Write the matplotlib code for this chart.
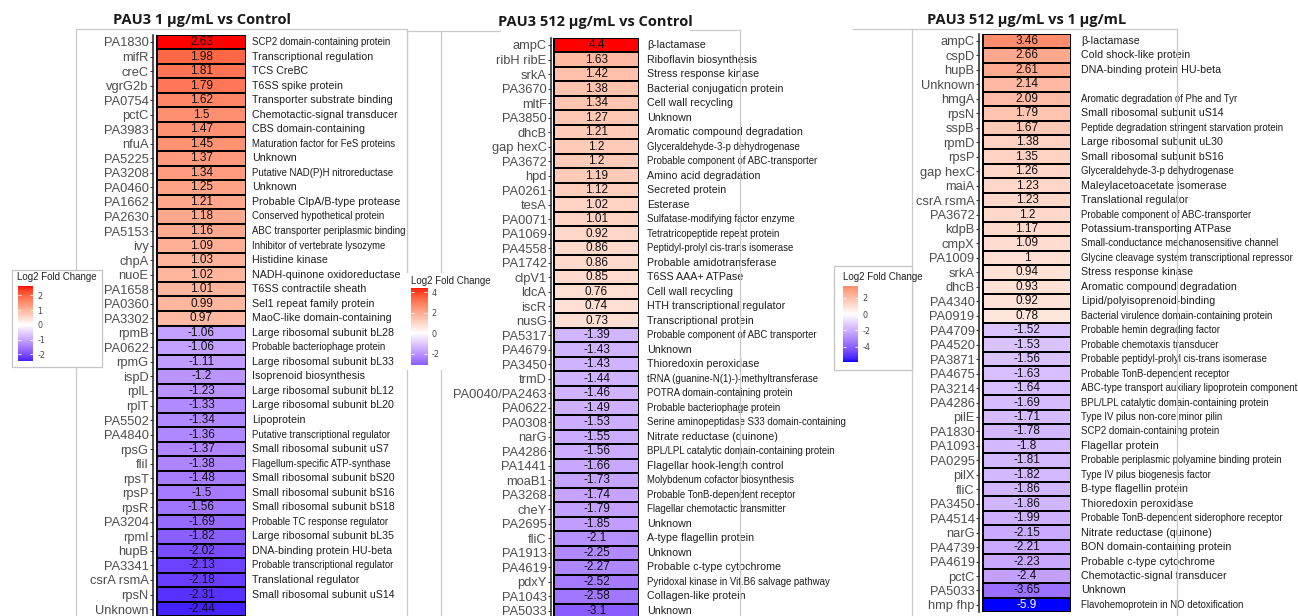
import numpy as np
import matplotlib
matplotlib.use("Agg")
import matplotlib.pyplot as plt
from matplotlib.colors import ListedColormap, Normalize
from matplotlib.lines import Line2D
from matplotlib.patches import Rectangle

# ---------------------------------------------------------------- data
title1 = "PAU3 1 µg/mL vs Control"
genes1 = ["PA1830", "mifR", "creC", "vgrG2b", "PA0754", "pctC", "PA3983", "nfuA",
          "PA5225", "PA3208", "PA0460", "PA1662", "PA2630", "PA5153", "ivy", "chpA",
          "nuoE", "PA1658", "PA0360", "PA3302", "rpmB", "PA0622", "rpmG", "ispD",
          "rplL", "rplT", "PA5502", "PA4840", "rpsG", "fliI", "rpsT", "rpsP", "rpsR",
          "PA3204", "rpmI", "hupB", "PA3341", "csrA rsmA", "rpsN", "Unknown"]
lfc1 = [2.63, 1.98, 1.81, 1.79, 1.62, 1.5, 1.47, 1.45, 1.37, 1.34, 1.25, 1.21, 1.18,
        1.16, 1.09, 1.03, 1.02, 1.01, 0.99, 0.97, -1.06, -1.06, -1.11, -1.2, -1.23,
        -1.33, -1.34, -1.36, -1.37, -1.38, -1.48, -1.5, -1.56, -1.69, -1.82, -2.02,
        -2.13, -2.18, -2.31, -2.44]
desc1 = ["SCP2 domain-containing protein", "Transcriptional regulation", "TCS CreBC",
         "T6SS spike protein", "Transporter substrate binding",
         "Chemotactic-signal transducer", "CBS domain-containing",
         "Maturation factor for FeS proteins", "Unknown",
         "Putative NAD(P)H nitroreductase", "Unknown", "Probable ClpA/B-type protease",
         "Conserved hypothetical protein", "ABC transporter periplasmic binding",
         "Inhibitor of vertebrate lysozyme", "Histidine kinase",
         "NADH-quinone oxidoreductase", "T6SS contractile sheath",
         "Sel1 repeat family protein", "MaoC-like domain-containing",
         "Large ribosomal subunit bL28", "Probable bacteriophage protein",
         "Large ribosomal subunit bL33", "Isoprenoid biosynthesis",
         "Large ribosomal subunit bL12", "Large ribosomal subunit bL20", "Lipoprotein",
         "Putative transcriptional regulator", "Small ribosomal subunit uS7",
         "Flagellum-specific ATP-synthase", "Small ribosomal subunit bS20",
         "Small ribosomal subunit bS16", "Small ribosomal subunit bS18",
         "Probable TC response regulator", "Large ribosomal subunit bL35",
         "DNA-binding protein HU-beta", "Probable transcriptional regulator",
         "Translational regulator", "Small ribosomal subunit uS14", ""]
breaks1 = [-2, -1, 0, 1, 2]

title2 = "PAU3 512 µg/mL vs Control"
genes2 = ["ampC", "ribH ribE", "srkA", "PA3670", "mltF", "PA3850", "dhcB", "gap hexC",
          "PA3672", "hpd", "PA0261", "tesA", "PA0071", "PA1069", "PA4558", "PA1742",
          "clpV1", "ldcA", "iscR", "nusG", "PA5317", "PA4679", "PA3450", "trmD",
          "PA0040/PA2463", "PA0622", "PA0308", "narG", "PA4286", "PA1441", "moaB1",
          "PA3268", "cheY", "PA2695", "fliC", "PA1913", "PA4619", "pdxY", "PA1043",
          "PA5033"]
lfc2 = [4.4, 1.63, 1.42, 1.38, 1.34, 1.27, 1.21, 1.2, 1.2, 1.19, 1.12, 1.02, 1.01,
        0.92, 0.86, 0.86, 0.85, 0.76, 0.74, 0.73, -1.39, -1.43, -1.43, -1.44, -1.46,
        -1.49, -1.53, -1.55, -1.56, -1.66, -1.73, -1.74, -1.79, -1.85, -2.1, -2.25,
        -2.27, -2.52, -2.58, -3.1]
desc2 = ["β-lactamase", "Riboflavin biosynthesis", "Stress response kinase",
         "Bacterial conjugation protein", "Cell wall recycling", "Unknown",
         "Aromatic compound degradation", "Glyceraldehyde-3-p dehydrogenase",
         "Probable component of ABC-transporter", "Amino acid degradation",
         "Secreted protein", "Esterase", "Sulfatase-modifying factor enzyme",
         "Tetratricopeptide repeat protein", "Peptidyl-prolyl cis-trans isomerase",
         "Probable amidotransferase", "T6SS AAA+ ATPase", "Cell wall recycling",
         "HTH transcriptional regulator", "Transcriptional protein",
         "Probable component of ABC transporter", "Unknown", "Thioredoxin peroxidase",
         "tRNA (guanine-N(1)-)-methyltransferase", "POTRA domain-containing protein",
         "Probable bacteriophage protein",
         "Serine aminopeptidase S33 domain-containing", "Nitrate reductase (quinone)",
         "BPL/LPL catalytic domain-containing protein", "Flagellar hook-length control",
         "Molybdenum cofactor biosynthesis", "Probable TonB-dependent receptor",
         "Flagellar chemotactic transmitter", "Unknown", "A-type flagellin protein",
         "Unknown", "Probable c-type cytochrome",
         "Pyridoxal kinase in Vit.B6 salvage pathway", "Collagen-like protein",
         "Unknown"]
breaks2 = [-2, 0, 2, 4]

title3 = "PAU3 512 µg/mL vs 1 µg/mL"
genes3 = ["ampC", "cspD", "hupB", "Unknown", "hmgA", "rpsN", "sspB", "rpmD", "rpsP",
          "gap hexC", "maiA", "csrA rsmA", "PA3672", "kdpB", "cmpX", "PA1009", "srkA",
          "dhcB", "PA4340", "PA0919", "PA4709", "PA4520", "PA3871", "PA4675", "PA3214",
          "PA4286", "pilE", "PA1830", "PA1093", "PA0295", "pilX", "fliC", "PA3450",
          "PA4514", "narG", "PA4739", "PA4619", "pctC", "PA5033", "hmp fhp"]
lfc3 = [3.46, 2.66, 2.61, 2.14, 2.09, 1.79, 1.67, 1.38, 1.35, 1.26, 1.23, 1.23, 1.2,
        1.17, 1.09, 1.0, 0.94, 0.93, 0.92, 0.78, -1.52, -1.53, -1.56, -1.63, -1.64,
        -1.69, -1.71, -1.78, -1.8, -1.81, -1.82, -1.86, -1.86, -1.99, -2.15, -2.21,
        -2.23, -2.4, -3.65, -5.9]
desc3 = ["β-lactamase", "Cold shock-like protein", "DNA-binding protein HU-beta", "",
         "Aromatic degradation of Phe and Tyr", "Small ribosomal subunit uS14",
         "Peptide degradation stringent starvation protein",
         "Large ribosomal subunit uL30", "Small ribosomal subunit bS16",
         "Glyceraldehyde-3-p dehydrogenase", "Maleylacetoacetate isomerase",
         "Translational regulator", "Probable component of ABC-transporter",
         "Potassium-transporting ATPase", "Small-conductance mechanosensitive channel",
         "Glycine cleavage system transcriptional repressor", "Stress response kinase",
         "Aromatic compound degradation", "Lipid/polyisoprenoid-binding",
         "Bacterial virulence domain-containing protein",
         "Probable hemin degrading factor", "Probable chemotaxis transducer",
         "Probable peptidyl-prolyl cis-trans isomerase",
         "Probable TonB-dependent receptor",
         "ABC-type transport auxiliary lipoprotein component",
         "BPL/LPL catalytic domain-containing protein",
         "Type IV pilus non-core minor pilin", "SCP2 domain-containing protein",
         "Flagellar protein", "Probable periplasmic polyamine binding protein",
         "Type IV pilus biogenesis factor", "B-type flagellin protein",
         "Thioredoxin peroxidase", "Probable TonB-dependent siderophore receptor",
         "Nitrate reductase (quinone)", "BON domain-containing protein",
         "Probable c-type cytochrome", "Chemotactic-signal transducer", "Unknown",
         "Flavohemoprotein in NO detoxification"]
breaks3 = [-4, -2, 0, 2]

# ---------------------------------------------------------------- colour scale
# blue - white - red gradient interpolated in CIELAB space
_M = np.array([[0.4124564, 0.3575761, 0.1804375],
               [0.2126729, 0.7151522, 0.0721750],
               [0.0193339, 0.1191920, 0.9503041]])
_WP = np.array([0.95047, 1.0, 1.08883])


def rgb_to_lab(rgb):
    rgb = np.asarray(rgb, float)
    lin = np.where(rgb <= 0.04045, rgb / 12.92, ((rgb + 0.055) / 1.055) ** 2.4)
    xyz = _M @ lin / _WP
    f = np.where(xyz > (6 / 29) ** 3, np.cbrt(xyz), xyz / (3 * (6 / 29) ** 2) + 4 / 29)
    return np.array([116 * f[1] - 16, 500 * (f[0] - f[1]), 200 * (f[1] - f[2])])


def lab_to_rgb(lab):
    L, a, b = lab
    fy = (L + 16) / 116
    fx = fy + a / 500
    fz = fy - b / 200
    f = np.array([fx, fy, fz])
    xyz = np.where(f > 6 / 29, f ** 3, 3 * (6 / 29) ** 2 * (f - 4 / 29)) * _WP
    lin = np.linalg.solve(_M, xyz)
    lin = np.clip(lin, 0, 1)
    rgb = np.where(lin <= 0.0031308, 12.92 * lin, 1.055 * lin ** (1 / 2.4) - 0.055)
    return np.clip(rgb, 0, 1)


lab_lo = rgb_to_lab([0, 0, 1])
lab_mid = rgb_to_lab([1, 1, 1])
lab_hi = rgb_to_lab([1, 0, 0])
ramp = []
for t in np.linspace(0, 1, 512):
    if t < 0.5:
        s = t / 0.5
        lab = lab_lo + (lab_mid - lab_lo) * s
    else:
        s = (t - 0.5) / 0.5
        lab = lab_mid + (lab_hi - lab_mid) * s
    ramp.append(lab_to_rgb(lab))
cmap = ListedColormap(np.array(ramp))

# ---------------------------------------------------------------- figure
W, H = 1298, 616
fig = plt.figure(figsize=(W / 100, H / 100), dpi=100)
fig.patch.set_facecolor("white")
PT = 0.72  # points per pixel at 100 dpi


def px_axes(x0, y0, x1, y1, **kw):
    return fig.add_axes([x0 / W, 1 - y1 / H, (x1 - x0) / W, (y1 - y0) / H], **kw)


def fline(x0, y0, x1, y1):
    fig.add_artist(Line2D([x0 / W, x1 / W], [1 - y0 / H, 1 - y1 / H],
                          transform=fig.transFigure, color="#CACACA", lw=0.9,
                          zorder=0.5))


def fbox(x0, y0, x1, y1, edge=True):
    fig.add_artist(Rectangle((x0 / W, 1 - y1 / H), (x1 - x0) / W, (y1 - y0) / H,
                             transform=fig.transFigure, facecolor="white",
                             edgecolor="#C4C4C4" if edge else "none", lw=0.9,
                             zorder=1))


# light frames around each panel
fline(76, 29, 407, 29); fline(76, 29, 76, 616); fline(407, 29, 407, 616)
fline(407, 31, 500, 31); fline(690, 30, 740, 30); fline(740, 30, 740, 616)
fline(407, 31, 407, 272); fline(441, 31, 441, 616)
fline(853, 29, 1177, 29); fline(912, 29, 912, 616); fline(1177, 29, 1177, 616)

panels = [
    dict(title=title1, genes=genes1, lfc=lfc1, desc=desc1, breaks=breaks1,
         axis_x=153, tile_l=157, tile_r=246, y0=42, dy=14.54, desc_gap=6,
         title_xy=(202, 20), leg=(12, 270, 102, 367, True), bar=(18, 286, 33, 361),
         leg_title=(17, 277)),
    dict(title=title2, genes=genes2, lfc=lfc2, desc=desc2, breaks=breaks2,
         axis_x=551, tile_l=554, tile_r=639, y0=45, dy=14.51, desc_gap=8,
         title_xy=(595, 22), leg=(405, 273, 495, 370, False), bar=(411, 288, 427, 365),
         leg_title=(411, 281)),
    dict(title=title3, genes=genes3, lfc=lfc3, desc=desc3, breaks=breaks3,
         axis_x=979, tile_l=983, tile_r=1071, y0=41, dy=14.46, desc_gap=10,
         title_xy=(1027, 20), leg=(834, 266, 912, 370, True), bar=(843, 286, 858, 362),
         leg_title=(843, 277)),
]

for p in panels:
    vals = np.array(p["lfc"], float)
    n = len(vals)
    lim = np.max(np.abs(vals))
    norm = Normalize(-lim, lim)

    top = p["y0"] - p["dy"] / 2
    ax = px_axes(p["axis_x"], top, p["tile_r"], top + n * p["dy"])
    ax.set_facecolor("none")
    rows = np.arange(n)
    ax.pcolormesh([0, 1], np.arange(n + 1) - 0.5, vals.reshape(-1, 1), cmap=cmap,
                  norm=norm, edgecolors="black", linewidth=1.4)
    ax.set_xlim(-(p["tile_l"] - p["axis_x"]) / (p["tile_r"] - p["tile_l"]), 1)
    ax.set_ylim(n - 0.5, -0.5)
    ax.set_yticks(rows)
    ax.set_yticklabels(p["genes"], fontsize=9.3, color="#4D4D4D",
                       family="Liberation Sans")
    ax.tick_params(axis="y", length=3 * PT, width=0.7, color="#333333", pad=1)
    ax.set_xticks([])
    for s in ("top", "right", "bottom"):
        ax.spines[s].set_visible(False)
    ax.spines["left"].set_color("#222222")
    ax.spines["left"].set_linewidth(1.1)

    for i, (v, d) in enumerate(zip(vals, p["desc"])):
        tc = "white" if norm(v) < 0.02 else "#111111"
        ax.text(0.5, i, f"{v:g}", ha="center", va="center", fontsize=8.5, color=tc,
                family="Liberation Sans")
        if d:
            ax.annotate(d, xy=(1, i), xycoords="data",
                        xytext=(p["desc_gap"] * PT, 0), textcoords="offset points",
                        ha="left", va="center", annotation_clip=False,
                        fontsize=6.9 if len(d) >= 30 else 7.7, color="#1E1E1E",
                        family="Liberation Sans")

    tx, ty = p["title_xy"]
    fig.text(tx / W, 1 - ty / H, p["title"], ha="center", va="center",
             fontsize=10.5, fontweight="bold", family="Open Sans", color="#1A1A1A",
             zorder=3)

    # legend
    lx0, ly0, lx1, ly1, edge = p["leg"]
    fbox(lx0, ly0, lx1, ly1, edge)
    ltx, lty = p["leg_title"]
    fig.text(ltx / W, 1 - lty / H, "Log2 Fold Change", ha="left", va="center",
             fontsize=7, color="#222222", family="Liberation Sans", zorder=3)
    bx0, by0, bx1, by1 = p["bar"]
    cax = px_axes(bx0, by0, bx1, by1, zorder=3)
    vmin, vmax = vals.min(), vals.max()
    grad = np.linspace(vmax, vmin, 300).reshape(-1, 1)
    cax.imshow(grad, cmap=cmap, norm=norm, aspect="auto",
               extent=[0, 1, vmin, vmax], interpolation="bilinear")
    cax.set_xlim(0, 1)
    cax.set_ylim(vmin, vmax)
    cax.set_xticks([])
    cax.set_yticks(p["breaks"])
    cax.set_yticklabels([f"{b:g}" for b in p["breaks"]])
    cax.tick_params(axis="y", left=True, right=True, labelleft=False,
                    labelright=True, direction="in", length=3 * PT, width=0.6,
                    color="white", labelsize=5.8, labelcolor="#444444", pad=3)
    for s in cax.spines.values():
        s.set_visible(False)

fig.savefig("out.png", dpi=100, facecolor="white")
